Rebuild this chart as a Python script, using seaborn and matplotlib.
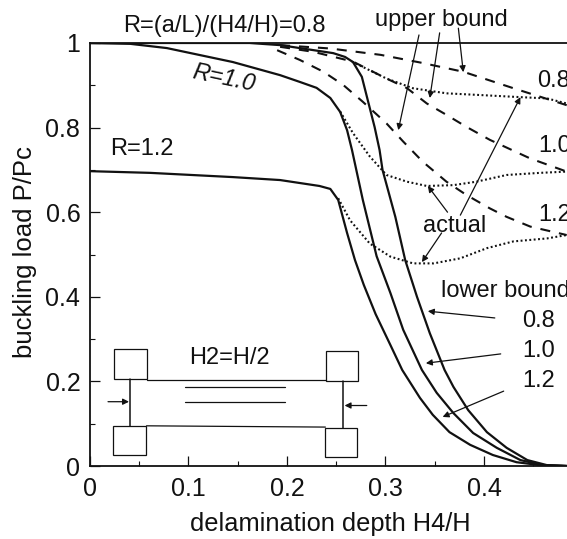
import matplotlib
matplotlib.use("Agg")
import matplotlib.pyplot as plt
from matplotlib.patches import Rectangle
import seaborn as sns

# values
lower_08_x = [0, 0.162, 0.193, 0.213, 0.247, 0.259, 0.267, 0.276, 0.282, 0.289, 0.294, 0.297, 0.310, 0.320, 0.332, 0.345, 0.360, 0.369, 0.384, 0.403, 0.423, 0.444, 0.464, 0.484]
lower_08_y = [1, 1, 0.995, 0.988, 0.976, 0.967, 0.955, 0.920, 0.865, 0.801, 0.747, 0.700, 0.589, 0.487, 0.400, 0.314, 0.227, 0.187, 0.132, 0.080, 0.043, 0.014, 0.002, 0]
lower_10_x = [0, 0.041, 0.078, 0.145, 0.193, 0.213, 0.230, 0.244, 0.254, 0.261, 0.266, 0.277, 0.291, 0.305, 0.318, 0.337, 0.352, 0.369, 0.389, 0.413, 0.437, 0.460, 0.484]
lower_10_y = [1, 0.998, 0.988, 0.955, 0.924, 0.908, 0.894, 0.870, 0.837, 0.794, 0.747, 0.629, 0.496, 0.409, 0.322, 0.227, 0.173, 0.125, 0.078, 0.043, 0.014, 0.002, 0]
lower_12_x = [0, 0.061, 0.145, 0.193, 0.233, 0.244, 0.252, 0.261, 0.269, 0.278, 0.290, 0.305, 0.317, 0.335, 0.348, 0.365, 0.386, 0.409, 0.433, 0.457, 0.484]
lower_12_y = [0.697, 0.693, 0.683, 0.676, 0.662, 0.655, 0.629, 0.551, 0.487, 0.428, 0.359, 0.286, 0.227, 0.161, 0.121, 0.080, 0.050, 0.026, 0.009, 0.002, 0]

upper_08_x = [0.193, 0.244, 0.295, 0.335, 0.379, 0.430, 0.484]
upper_08_y = [0.995, 0.987, 0.972, 0.954, 0.932, 0.893, 0.853]
upper_10_x = [0.193, 0.227, 0.267, 0.301, 0.322, 0.342, 0.362, 0.382, 0.406, 0.447, 0.484]
upper_10_y = [0.991, 0.979, 0.956, 0.916, 0.893, 0.857, 0.830, 0.802, 0.771, 0.727, 0.696]
upper_12_x = [0.19, 0.213, 0.237, 0.257, 0.277, 0.301, 0.318, 0.338, 0.362, 0.382, 0.406, 0.423, 0.447, 0.484]
upper_12_y = [0.983, 0.960, 0.932, 0.901, 0.861, 0.810, 0.767, 0.719, 0.672, 0.641, 0.609, 0.589, 0.566, 0.546]

actual_08_x = [0.266, 0.301, 0.328, 0.362, 0.396, 0.437, 0.464, 0.484]
actual_08_y = [0.956, 0.916, 0.893, 0.881, 0.877, 0.872, 0.869, 0.857]
actual_10_x = [0.254, 0.267, 0.284, 0.301, 0.322, 0.342, 0.369, 0.392, 0.423, 0.457, 0.484]
actual_10_y = [0.838, 0.787, 0.732, 0.688, 0.672, 0.662, 0.664, 0.672, 0.688, 0.693, 0.696]
actual_12_x = [0.252, 0.264, 0.284, 0.305, 0.328, 0.349, 0.376, 0.403, 0.430, 0.464, 0.484]
actual_12_y = [0.633, 0.581, 0.526, 0.495, 0.479, 0.479, 0.491, 0.515, 0.531, 0.538, 0.546]

x_ticks = [0, 0.1, 0.2, 0.3, 0.4]
x_labels = ["0", "0.1", "0.2", "0.3", "0.4"]
y_ticks = [0, 0.2, 0.4, 0.6, 0.8, 1]
y_labels = ["0", "0.2", "0.4", "0.6", "0.8", "1"]

sns.set_theme(style="ticks")
plt.rcParams["font.family"] = ["Liberation Sans", "DejaVu Sans"]

W, H = 567, 539
fig = plt.figure(figsize=(W / 100, H / 100), dpi=100)
ax = fig.add_axes([90 / W, 1 - 466 / H, (W - 90) / W, 423 / H])

ink = "#111111"

# lower bounds, upper bounds and actual curves
for xs, ys in [(lower_08_x, lower_08_y), (lower_10_x, lower_10_y), (lower_12_x, lower_12_y)]:
    sns.lineplot(x=xs, y=ys, ax=ax, color=ink, linewidth=1.6, sort=False, estimator=None)
for xs, ys in [(upper_08_x, upper_08_y), (upper_10_x, upper_10_y), (upper_12_x, upper_12_y)]:
    sns.lineplot(x=xs, y=ys, ax=ax, color=ink, linewidth=1.5, linestyle=(0, (4.8, 4.3)), sort=False, estimator=None)
for xs, ys in [(actual_08_x, actual_08_y), (actual_10_x, actual_10_y), (actual_12_x, actual_12_y)]:
    sns.lineplot(x=xs, y=ys, ax=ax, color=ink, linewidth=1.5, linestyle=(0, (0.9, 1.2)), sort=False, estimator=None)

ax.set_xlim(0, 0.4843)
ax.set_ylim(0, 1)
ax.set_xticks(x_ticks)
ax.set_xticklabels(x_labels)
ax.set_yticks(y_ticks)
ax.set_yticklabels(y_labels)
ax.set_xticks([0.05, 0.15, 0.25, 0.35, 0.45], minor=True)
ax.set_yticks([0.1, 0.3, 0.5, 0.7, 0.9], minor=True)
ax.tick_params(which="major", direction="in", length=7, width=0.9, color=ink, labelsize=18, labelcolor=ink)
ax.tick_params(which="minor", direction="in", length=3.5, width=0.8, color=ink)
ax.tick_params(axis="x", which="major", pad=8)
ax.tick_params(axis="y", which="major", pad=7)
ax.spines["right"].set_visible(False)
for side in ["left", "bottom", "top"]:
    ax.spines[side].set_linewidth(1.3)
    ax.spines[side].set_color(ink)

ax.set_xlabel("delamination depth H4/H", fontsize=18.3, color=ink)
ax.set_ylabel("buckling load P/Pc", fontsize=18.5, color=ink)
ax.xaxis.set_label_coords(240 / (W - 90), -46 / 423)
ax.yaxis.set_label_coords(-53 / (W - 90), 214 / 423)

# text labels
labels = [
    ("R=(a/L)/(H4/H)=0.8", 0.0335, 1.026),
    ("R=1.2", 0.020, 0.735),
    ("upper bound", 0.289, 1.040),
    ("0.8", 0.454, 0.896),
    ("1.0", 0.455, 0.742),
    ("1.2", 0.455, 0.579),
    ("actual", 0.338, 0.553),
    ("lower bound", 0.356, 0.400),
    ("0.8", 0.439, 0.329),
    ("1.0", 0.439, 0.258),
    ("1.2", 0.439, 0.187),
    ("H2=H/2", 0.1005, 0.241),
]
for txt, tx, ty in labels:
    ax.text(tx, ty, txt, fontsize=17, color=ink, va="baseline", ha="left", clip_on=False)
ax.text(0.136, 0.917, "R=1.0", fontsize=17, color=ink, style="italic", rotation=-12,
        ha="center", va="center", rotation_mode="anchor")

# leader arrows
arrows = [
    (0.334, 1.019, 0.313, 0.794),
    (0.355, 1.024, 0.345, 0.870),
    (0.374, 1.035, 0.379, 0.931),
    (0.376, 0.593, 0.437, 0.872),
    (0.363, 0.600, 0.343, 0.662),
    (0.357, 0.551, 0.337, 0.482),
    (0.411, 0.350, 0.343, 0.366),
    (0.417, 0.265, 0.341, 0.243),
    (0.420, 0.177, 0.358, 0.116),
    (0.0183, 0.152, 0.0396, 0.152),
    (0.281, 0.143, 0.2585, 0.143),
]
for x0, y0, x1, y1 in arrows:
    ax.annotate("", xy=(x1, y1), xytext=(x0, y0), annotation_clip=False,
                arrowprops=dict(arrowstyle="-|>", color=ink, lw=0.9, mutation_scale=9,
                                shrinkA=0, shrinkB=0))

# specimen sketch
blocks = [
    (0.0244, 0.206, 0.033, 0.071),
    (0.0234, 0.026, 0.033, 0.069),
    (0.240, 0.201, 0.032, 0.071),
    (0.239, 0.021, 0.032, 0.069),
]
for bx, by, bw, bh in blocks:
    ax.add_patch(Rectangle((bx, by), bw, bh, fill=False, edgecolor=ink, linewidth=0.9))
ax.plot([0.0574, 0.240], [0.203, 0.203], color=ink, lw=0.9)
ax.plot([0.0574, 0.239], [0.095, 0.092], color=ink, lw=0.9)
ax.plot([0.0406, 0.0406], [0.095, 0.206], color=ink, lw=1.1)
ax.plot([0.257, 0.257], [0.090, 0.201], color=ink, lw=1.1)
ax.plot([0.0964, 0.198], [0.187, 0.187], color=ink, lw=0.9)
ax.plot([0.0964, 0.198], [0.152, 0.152], color=ink, lw=0.9)

fig.savefig("out.png", dpi=100)
plt.close(fig)
